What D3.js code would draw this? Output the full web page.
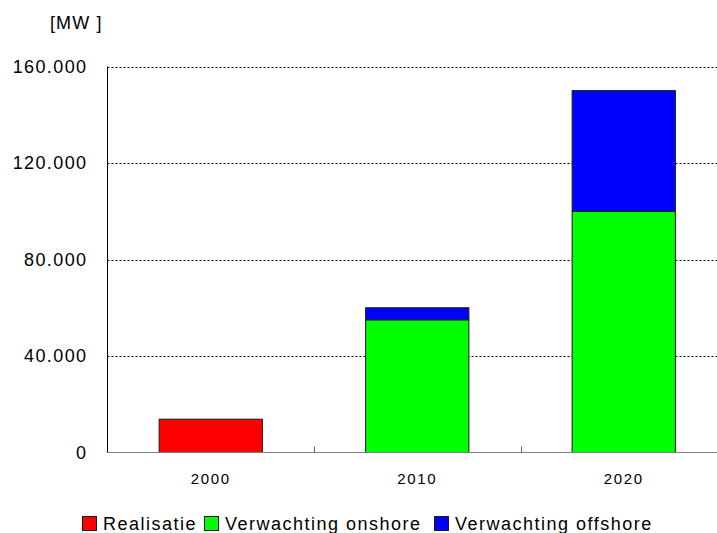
<!DOCTYPE html>
<html>
<head>
<meta charset="utf-8">
<script src="https://cdn.jsdelivr.net/npm/d3@7"></script>
<style>
  body { margin: 0; background: #fff; }
  svg { display: block; font-family: "Liberation Sans", Arial, sans-serif; }
</style>
</head>
<body>
<svg id="chart" width="717" height="533"></svg>
<script>
// Installed wind capacity (MW) per year
const years = ["2000", "2010", "2020"];
const realisatie = [13800, 0, 0];
const onshore = [0, 55000, 100000];
const offshore = [0, 5000, 50000];
const seriesNames = ["Realisatie", "Verwachting onshore", "Verwachting offshore"];
const seriesColors = ["#ff0000", "#00ff00", "#0000ff"];
const yTicks = [0, 40000, 80000, 120000, 160000];

const svg = d3.select("#chart");
const margin = { left: 107.5, top: 66.5, bottom: 452.5, right: 727 };

const x = d3.scaleBand().domain(years).range([margin.left, margin.right]).paddingInner(0.5).paddingOuter(0.25);
const y = d3.scaleLinear().domain([0, 160000]).range([margin.bottom, margin.top]);

const fmt = v => v === 0 ? "0" : d3.format(",.0f")(v).replace(/,/g, ".");

// dotted gridlines
svg.append("g")
  .selectAll("line")
  .data(yTicks.filter(d => d > 0))
  .join("line")
  .attr("x1", margin.left).attr("x2", 717)
  .attr("y1", d => Math.round(y(d)) + 0.5).attr("y2", d => Math.round(y(d)) + 0.5)
  .attr("stroke", "#000").attr("stroke-width", 1).attr("stroke-dasharray", "2,2");

// stacked bars
const rows = years.map((yr, i) => ({ year: yr, r: realisatie[i], on: onshore[i], off: offshore[i] }));
const stack = d3.stack().keys(["r", "on", "off"])(rows);
svg.append("g")
  .selectAll("g")
  .data(stack)
  .join("g")
  .attr("fill", (d, i) => seriesColors[i])
  .selectAll("rect")
  .data(d => d.filter(p => p[1] - p[0] > 0))
  .join("rect")
  .attr("x", d => x(d.data.year))
  .attr("width", x.bandwidth())
  .attr("y", d => y(d[1]))
  .attr("height", d => y(d[0]) - y(d[1]))
  .attr("stroke", "#1a1a1a").attr("stroke-width", 1);

// x axis
const xAxis = svg.append("g").attr("transform", `translate(0,${margin.bottom})`)
  .call(d3.axisBottom(x).tickSize(0).tickPadding(21));
xAxis.select(".domain").attr("stroke", "#808080").attr("d", `M${margin.left},0H${margin.right}`);
xAxis.selectAll("text").attr("font-size", 15).attr("letter-spacing", "1.6px").attr("fill", "#000")
  .attr("font-family", "Liberation Sans, Arial, sans-serif");
// category separators
const seps = years.slice(1).map(yr => x(yr) - x.step() * x.paddingInner() / 2);
xAxis.selectAll("line.sep").data(seps).join("line").attr("class", "sep")
  .attr("x1", d => Math.round(d) + 0.5).attr("x2", d => Math.round(d) + 0.5)
  .attr("y1", -6).attr("y2", 0).attr("stroke", "#606060");

// y axis
const yAxis = svg.append("g").attr("transform", `translate(${margin.left},0)`)
  .call(d3.axisLeft(y).tickValues(yTicks).tickFormat(fmt).tickSize(0).tickPadding(20));
yAxis.select(".domain").attr("stroke", "#000").attr("d", `M0,${margin.top}V${margin.bottom}`);
yAxis.selectAll("text").attr("font-size", 18).attr("letter-spacing", "1.4px").attr("fill", "#000")
  .attr("font-family", "Liberation Sans, Arial, sans-serif");

// unit label
svg.append("text").attr("x", 50).attr("y", 29).attr("font-size", 18).attr("letter-spacing", "1.1px")
  .text("[MW ]");

// legend
const legendX = [82, 204, 434];
const lg = svg.append("g").selectAll("g").data(seriesNames).join("g")
  .attr("transform", (d, i) => `translate(${legendX[i]},516)`);
lg.append("rect").attr("x", 0.5).attr("y", 0.5).attr("width", 14).attr("height", 14)
  .attr("fill", (d, i) => seriesColors[i]).attr("stroke", "#1a1a1a");
lg.append("text").attr("x", 21).attr("y", 13.5).attr("font-size", 18).attr("letter-spacing", "1.5px")
  .text(d => d);
</script>
</body>
</html>
